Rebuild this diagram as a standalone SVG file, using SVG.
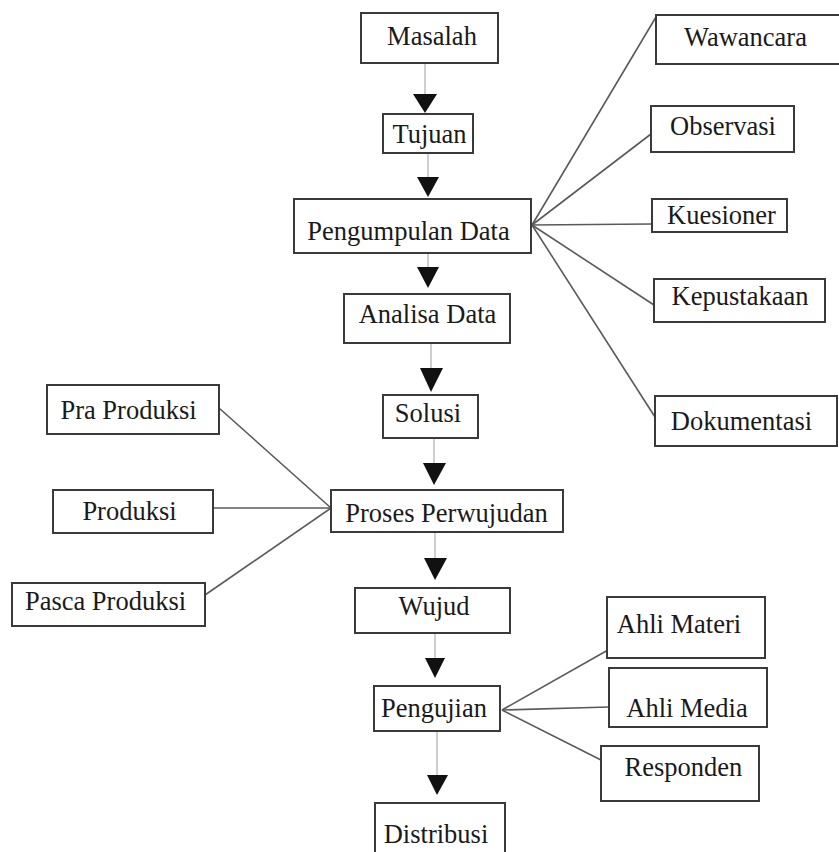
<svg xmlns="http://www.w3.org/2000/svg" width="839" height="852" viewBox="0 0 839 852" font-family="'Liberation Serif', 'Times New Roman', serif">
<style>
.box{fill:#fff;stroke:#3a3a3a;stroke-width:2}
.t{font-size:26.5px;fill:#1a1a1a;text-anchor:middle}
.flow{stroke:#cfcfcf;stroke-width:2;fill:none}
.head{fill:#111}
.fan{stroke:#5a5a5a;stroke-width:1.6;fill:none}
</style>
<rect width="839" height="852" fill="#fff"/>
<g id="connectors">
<line class="flow" x1="425" y1="63" x2="425" y2="95"/>
<polygon class="head" points="413,94 437,94 425,113"/>
<line class="flow" x1="428" y1="153" x2="428" y2="178"/>
<polygon class="head" points="417,177 439,177 428,197"/>
<line class="flow" x1="428" y1="253" x2="428" y2="268"/>
<polygon class="head" points="417,267 439,267 428,288"/>
<line class="flow" x1="431" y1="343" x2="431" y2="369"/>
<polygon class="head" points="420,368 443,368 431,392"/>
<line class="flow" x1="434" y1="438" x2="434" y2="464"/>
<polygon class="head" points="423,463 446,463 434,485"/>
<line class="flow" x1="435" y1="532" x2="435" y2="559"/>
<polygon class="head" points="424,558 447,558 435,580"/>
<line class="flow" x1="435" y1="633" x2="435" y2="659"/>
<polygon class="head" points="425,658 445,658 435,678"/>
<line class="flow" x1="437" y1="731" x2="437" y2="776"/>
<polygon class="head" points="427,775 448,775 437,795"/>
<line class="fan" x1="532" y1="225" x2="656" y2="17"/>
<line class="fan" x1="532" y1="225" x2="651" y2="134"/>
<line class="fan" x1="532" y1="225" x2="652" y2="224"/>
<line class="fan" x1="532" y1="225" x2="654" y2="305"/>
<line class="fan" x1="532" y1="225" x2="655" y2="417"/>
<line class="fan" x1="219" y1="408" x2="331" y2="508"/>
<line class="fan" x1="213" y1="508" x2="331" y2="508"/>
<line class="fan" x1="205" y1="595" x2="331" y2="508"/>
<line class="fan" x1="502" y1="710" x2="608" y2="650"/>
<line class="fan" x1="502" y1="710" x2="609" y2="707"/>
<line class="fan" x1="502" y1="710" x2="601" y2="760"/>
</g>
<g id="masalah"><rect class="box" x="361" y="13" width="137" height="50"/><text class="t" x="432" y="45">Masalah</text></g>
<g id="tujuan"><rect class="box" x="383" y="114" width="90" height="39"/><text class="t" x="429.5" y="143">Tujuan</text></g>
<g id="pengumpulan-data"><rect class="box" x="294" y="199" width="237" height="54"/><text class="t" x="408.5" y="240">Pengumpulan Data</text></g>
<g id="analisa-data"><rect class="box" x="344" y="294" width="166" height="49"/><text class="t" x="427.5" y="323">Analisa Data</text></g>
<g id="solusi"><rect class="box" x="383" y="395" width="95" height="43"/><text class="t" x="428" y="422">Solusi</text></g>
<g id="proses-perwujudan"><rect class="box" x="331" y="490" width="232" height="42"/><text class="t" x="446.5" y="522">Proses Perwujudan</text></g>
<g id="wujud"><rect class="box" x="355" y="588" width="155" height="45"/><text class="t" x="434" y="615">Wujud</text></g>
<g id="pengujian"><rect class="box" x="374" y="686" width="126" height="45"/><text class="t" x="434" y="717">Pengujian</text></g>
<g id="distribusi"><rect class="box" x="375" y="803" width="130" height="60"/><text class="t" x="436" y="843">Distribusi</text></g>
<g id="wawancara"><rect class="box" x="656" y="15" width="190" height="49"/><text class="t" x="745.5" y="46">Wawancara</text></g>
<g id="observasi"><rect class="box" x="651" y="106" width="143" height="46"/><text class="t" x="723" y="135">Observasi</text></g>
<g id="kuesioner"><rect class="box" x="652" y="199" width="135" height="33"/><text class="t" x="721.5" y="224">Kuesioner</text></g>
<g id="kepustakaan"><rect class="box" x="654" y="279" width="171" height="43"/><text class="t" x="740" y="305">Kepustakaan</text></g>
<g id="dokumentasi"><rect class="box" x="655" y="396" width="182" height="50"/><text class="t" x="741.5" y="430">Dokumentasi</text></g>
<g id="pra-produksi"><rect class="box" x="47" y="385" width="172" height="49"/><text class="t" x="128.5" y="419">Pra Produksi</text></g>
<g id="produksi"><rect class="box" x="53" y="490" width="160" height="43"/><text class="t" x="129.5" y="520">Produksi</text></g>
<g id="pasca-produksi"><rect class="box" x="12" y="583" width="193" height="43"/><text class="t" x="105.5" y="610">Pasca Produksi</text></g>
<g id="ahli-materi"><rect class="box" x="607" y="597" width="158" height="61"/><text class="t" x="679" y="633">Ahli Materi</text></g>
<g id="ahli-media"><rect class="box" x="609" y="668" width="158" height="59"/><text class="t" x="687" y="717">Ahli Media</text></g>
<g id="responden"><rect class="box" x="601" y="746" width="158" height="55"/><text class="t" x="683.5" y="776">Responden</text></g>
</svg>
